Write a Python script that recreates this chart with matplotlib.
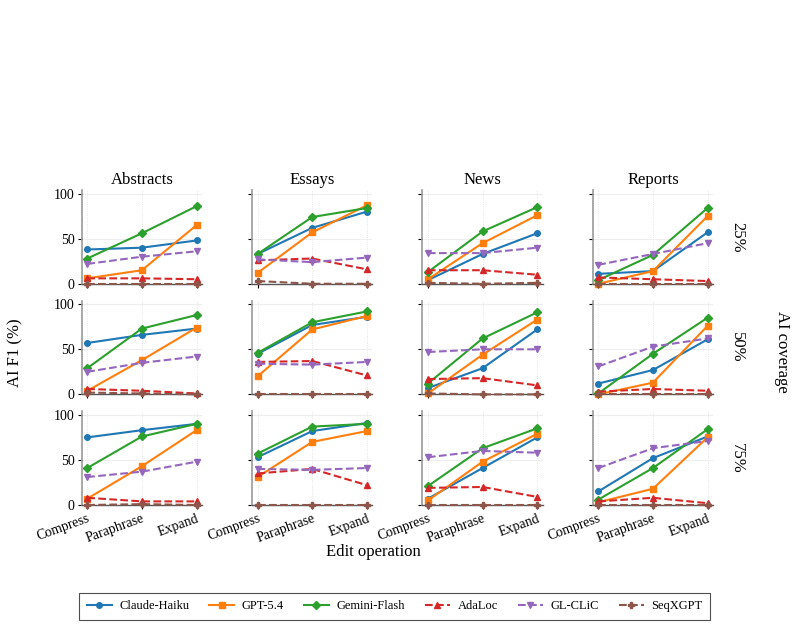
import matplotlib
matplotlib.use("Agg")
import matplotlib.pyplot as plt
import numpy as np

operations = ["Compress", "Paraphrase", "Expand"]
domains = ["Abstracts", "Essays", "News", "Reports"]
coverages = ["25%", "50%", "75%"]

# each model: rows = coverage (25/50/75), cols = domain, values = per operation
claude_haiku = [
    [[38, 40, 48], [33, 62, 80], [4, 33, 56], [11, 14, 57]],
    [[57, 66, 73], [45, 77, 86], [7, 29, 72], [12, 27, 61]],
    [[75, 83, 90], [53, 82, 91], [7, 41, 75], [15, 52, 76]],
]
gpt_54 = [
    [[6, 15, 65], [12, 57, 87], [5, 45, 76], [0, 14, 75]],
    [[4, 38, 74], [20, 72, 87], [1, 44, 83], [0, 13, 76]],
    [[7, 43, 83], [31, 70, 82], [5, 48, 79], [3, 18, 75]],
]
gemini_flash = [
    [[28, 56, 86], [33, 74, 84], [13, 58, 85], [4, 32, 84]],
    [[29, 73, 88], [46, 80, 92], [12, 62, 91], [1, 45, 85]],
    [[41, 76, 90], [57, 87, 90], [21, 63, 85], [6, 41, 84]],
]
adaloc = [
    [[6, 6, 5], [26, 28, 16], [15, 15, 10], [7, 5, 3]],
    [[6, 4, 1], [36, 37, 21], [17, 18, 10], [3, 6, 4]],
    [[8, 4, 4], [35, 40, 22], [19, 20, 9], [4, 8, 2]],
]
gl_clic = [
    [[22, 30, 36], [27, 24, 29], [34, 34, 40], [21, 33, 45]],
    [[25, 35, 42], [34, 33, 36], [47, 50, 50], [31, 53, 62]],
    [[31, 37, 48], [40, 39, 41], [53, 60, 58], [41, 63, 71]],
]
seqxgpt = [
    [[0, 0, 0], [3, 0, 0], [1, 0, 1], [0, 0, 0]],
    [[2, 1, 0], [0, 0, 0], [1, 0, 0], [0, 0, 0]],
    [[0, 1, 0], [0, 0, 0], [0, 0, 0], [0, 0, 0]],
]

model_names = ["Claude-Haiku", "GPT-5.4", "Gemini-Flash", "AdaLoc", "GL-CLiC", "SeqXGPT"]


def draw_graph():
    plt.rcParams['font.family'] = ['Liberation Serif', 'DejaVu Serif']

    series = [claude_haiku, gpt_54, gemini_flash, adaloc, gl_clic, seqxgpt]
    colors = ['#1f77b4', '#ff7f0e', '#2ca02c', '#d62728', '#9467bd', '#8c564b']
    markers = ['o', 's', 'D', '^', 'v', 'P']
    styles = ['-', '-', '-', '--', '--', '--']

    fig, axes = plt.subplots(3, 4, figsize=(7.94, 6.25), dpi=100,
                             sharex=True, sharey=True)
    fig.subplots_adjust(left=0.103, right=0.898, top=0.696, bottom=0.192,
                        wspace=0.417, hspace=0.18)

    x = np.arange(len(operations))
    for r in range(3):
        for c in range(4):
            ax = axes[r, c]
            for vals, col, mk, ls, name in zip(series, colors, markers, styles, model_names):
                ax.plot(x, vals[r][c], color=col, marker=mk, linestyle=ls,
                        linewidth=1.5, markersize=4, label=name, clip_on=False, zorder=3)
            ax.set_xlim(-0.1, 2.1)
            ax.set_ylim(0, 104)
            ax.set_yticks([0, 50, 100])
            ax.set_xticks(x)
            ax.grid(axis='y', color='#eeeeee', linewidth=0.8)
            ax.grid(axis='x', color='#dddddd', linewidth=0.6, linestyle=':')
            ax.set_axisbelow(True)
            for s in ['top', 'right']:
                ax.spines[s].set_visible(False)
            ax.spines['left'].set_color('#999999')
            ax.spines['left'].set_linewidth(1.2)
            ax.spines['bottom'].set_color('#555555')
            ax.spines['bottom'].set_linewidth(1.0)
            ax.tick_params(labelsize=10, length=3, width=0.8, pad=2)
            if r == 0:
                ax.set_title(domains[c], fontsize=12, pad=4)
            if r == 2:
                ax.set_xticklabels(operations, rotation=20, ha='right',
                                   rotation_mode='anchor')
            if c == 3:
                ax.text(1.2, 0.5, coverages[r], transform=ax.transAxes,
                        rotation=270, va='center', ha='center', fontsize=12)

    fig.text(0.47, 0.117, "Edit operation", ha='center', va='center', fontsize=12)
    fig.text(0.02, 0.435, "AI F1 (%)", ha='center', va='center', rotation=90, fontsize=12)
    fig.text(0.985, 0.437, "AI coverage", ha='center', va='center', rotation=270, fontsize=12)

    handles, labels = axes[0, 0].get_legend_handles_labels()
    leg = fig.legend(handles, labels, loc='center', bbox_to_anchor=(0.497, 0.03),
                     ncol=6, fontsize=9, frameon=True, fancybox=False,
                     handlelength=2.0, handletextpad=0.6, columnspacing=1.6,
                     borderpad=0.6)
    leg.get_frame().set_edgecolor('#222222')
    leg.get_frame().set_linewidth(0.8)

    fig.savefig("out.png", dpi=100)


if __name__ == '__main__':
    draw_graph()
